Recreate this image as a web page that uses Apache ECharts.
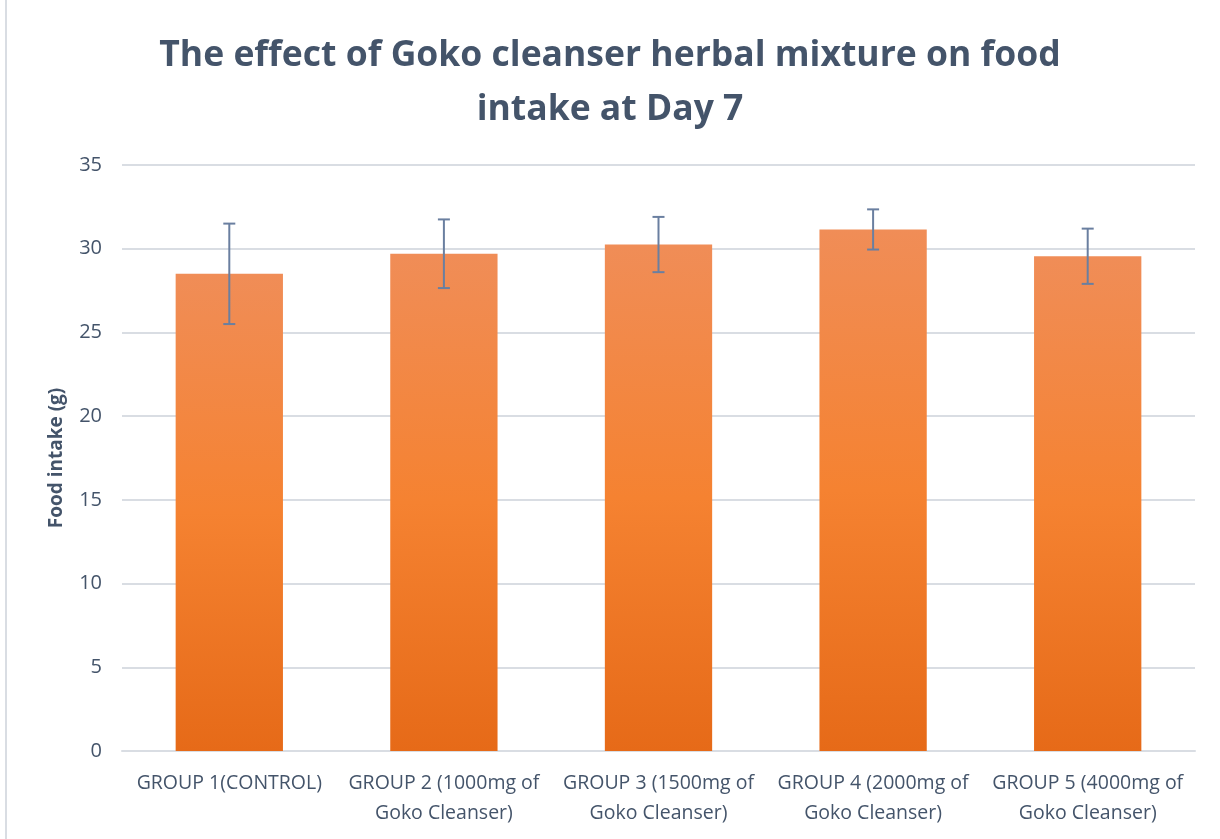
<!DOCTYPE html>
<html>
<head>
<meta charset="utf-8">
<script src="https://cdn.jsdelivr.net/npm/echarts@6/dist/echarts.min.js"></script>
<style>
  html, body { margin: 0; padding: 0; background: #fff; }
  #chart { width: 1220px; height: 839px; }
</style>
</head>
<body>
<div id="chart"></div>
<script>
var categories = [
	'GROUP 1(CONTROL)',
	'GROUP 2 (1000mg of Goko Cleanser)',
	'GROUP 3 (1500mg of Goko Cleanser)',
	'GROUP 4 (2000mg of Goko Cleanser)',
	'GROUP 5 (4000mg of Goko Cleanser)'
];
var foodIntake = [28.5, 29.7, 30.25, 31.15, 29.55];
var errorSize = [3.0, 2.05, 1.65, 1.2, 1.65];
var yTicks = [0, 5, 10, 15, 20, 25, 30, 35];

var myChart = echarts.init(document.getElementById('chart'));

var errorData = foodIntake.map(function (v, i) {
	return [i, v - errorSize[i], v + errorSize[i]];
});

var textColor = '#44546A';
var font = 'Open Sans';

var option = {
	backgroundColor: '#fff',
	animation: false,
	title: {
		text: 'The effect of Goko cleanser herbal mixture on food\nintake at Day 7',
		left: 'center',
		top: 24,
		textStyle: {
			fontFamily: font,
			fontSize: 35.5,
			fontWeight: 'bold',
			color: textColor,
			lineHeight: 54
		}
	},
	grid: {
		left: 122,
		right: 25,
		top: 165,
		bottom: 88
	},
	xAxis: {
		type: 'category',
		data: categories,
		axisLine: { lineStyle: { color: '#D9DDE3', width: 2 } },
		axisTick: { show: false },
		axisLabel: {
			interval: 0,
			margin: 17,
			fontFamily: font,
			fontSize: 19.5,
			lineHeight: 30,
			color: textColor,
			formatter: function (v) { return v.replace(' Goko', '\nGoko'); }
		}
	},
	yAxis: {
		type: 'value',
		min: yTicks[0],
		max: yTicks[yTicks.length - 1],
		interval: 5,
		name: 'Food intake (g)',
		nameLocation: 'middle',
		nameGap: 56,
		nameTextStyle: {
			fontFamily: font,
			fontSize: 19,
			fontWeight: 'bold',
			color: textColor
		},
		axisLine: { show: false },
		axisTick: { show: false },
		axisLabel: {
			margin: 20,
			fontFamily: font,
			fontSize: 20,
			color: textColor
		},
		splitLine: { lineStyle: { color: '#D9DDE3', width: 2 } }
	},
	series: [
		{
			name: 'Food intake',
			type: 'bar',
			data: foodIntake,
			barWidth: '50%',
			itemStyle: {
				color: new echarts.graphic.LinearGradient(0, 0, 0, 1, [
					{ offset: 0, color: '#F08D57' },
					{ offset: 0.5, color: '#F58231' },
					{ offset: 1, color: '#E66A18' }
				])
			}
		},
		{
			name: 'Error',
			type: 'custom',
			data: errorData,
			z: 10,
			renderItem: function (params, api) {
				var x = api.value(0);
				var lo = api.coord([x, api.value(1)]);
				var hi = api.coord([x, api.value(2)]);
				var half = 6;
				var style = { stroke: '#6A7FA0', lineWidth: 2 };
				return {
					type: 'group',
					children: [
						{ type: 'line', shape: { x1: hi[0], y1: hi[1], x2: lo[0], y2: lo[1] }, style: style },
						{ type: 'line', shape: { x1: hi[0] - half, y1: hi[1], x2: hi[0] + half, y2: hi[1] }, style: style },
						{ type: 'line', shape: { x1: lo[0] - half, y1: lo[1], x2: lo[0] + half, y2: lo[1] }, style: style }
					]
				};
			}
		}
	],
	graphic: [
		{
			type: 'rect',
			shape: { x: 6, y: -2, width: 1250, height: 860 },
			style: { fill: 'none', stroke: '#D9DDE3', lineWidth: 2 },
			silent: true
		}
	]
};
myChart.setOption(option);
</script>
</body>
</html>
